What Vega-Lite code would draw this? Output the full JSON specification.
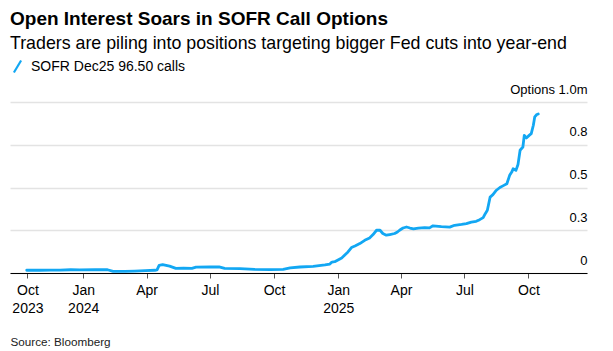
{
  "$schema": "https://vega.github.io/schema/vega-lite/v6.json",
  "width": 577,
  "height": 171,
  "autosize": {"type": "none"},
  "padding": {"left": 10, "top": 102, "right": 26, "bottom": 78},
  "background": "white",
  "title": {
    "text": "Open Interest Soars in SOFR Call Options",
    "subtitle": "Traders are piling into positions targeting bigger Fed cuts into year-end",
    "anchor": "start",
    "frame": "group",
    "font": "Liberation Sans",
    "fontSize": 19,
    "fontWeight": "bold",
    "color": "#000000",
    "subtitleFont": "Liberation Sans",
    "subtitleFontSize": 17.8,
    "subtitleColor": "#000000",
    "subtitlePadding": 6,
    "offset": 6
  },
  "config": {
    "view": {"stroke": null},
    "font": "Liberation Sans"
  },
  "data": {
    "values": [
      {"date": "2023-10-12", "value": 0.016, "series": "SOFR Dec25 96.50 calls"},
      {"date": "2023-10-31", "value": 0.016, "series": "SOFR Dec25 96.50 calls"},
      {"date": "2023-11-15", "value": 0.017, "series": "SOFR Dec25 96.50 calls"},
      {"date": "2023-11-29", "value": 0.017, "series": "SOFR Dec25 96.50 calls"},
      {"date": "2023-12-14", "value": 0.019, "series": "SOFR Dec25 96.50 calls"},
      {"date": "2023-12-27", "value": 0.018, "series": "SOFR Dec25 96.50 calls"},
      {"date": "2024-01-18", "value": 0.019, "series": "SOFR Dec25 96.50 calls"},
      {"date": "2024-02-05", "value": 0.019, "series": "SOFR Dec25 96.50 calls"},
      {"date": "2024-02-13", "value": 0.010, "series": "SOFR Dec25 96.50 calls"},
      {"date": "2024-03-01", "value": 0.009, "series": "SOFR Dec25 96.50 calls"},
      {"date": "2024-03-15", "value": 0.011, "series": "SOFR Dec25 96.50 calls"},
      {"date": "2024-03-30", "value": 0.014, "series": "SOFR Dec25 96.50 calls"},
      {"date": "2024-04-13", "value": 0.016, "series": "SOFR Dec25 96.50 calls"},
      {"date": "2024-04-16", "value": 0.018, "series": "SOFR Dec25 96.50 calls"},
      {"date": "2024-04-19", "value": 0.045, "series": "SOFR Dec25 96.50 calls"},
      {"date": "2024-04-24", "value": 0.049, "series": "SOFR Dec25 96.50 calls"},
      {"date": "2024-05-04", "value": 0.040, "series": "SOFR Dec25 96.50 calls"},
      {"date": "2024-05-13", "value": 0.027, "series": "SOFR Dec25 96.50 calls"},
      {"date": "2024-05-24", "value": 0.028, "series": "SOFR Dec25 96.50 calls"},
      {"date": "2024-06-05", "value": 0.027, "series": "SOFR Dec25 96.50 calls"},
      {"date": "2024-06-11", "value": 0.034, "series": "SOFR Dec25 96.50 calls"},
      {"date": "2024-07-01", "value": 0.035, "series": "SOFR Dec25 96.50 calls"},
      {"date": "2024-07-14", "value": 0.036, "series": "SOFR Dec25 96.50 calls"},
      {"date": "2024-07-22", "value": 0.027, "series": "SOFR Dec25 96.50 calls"},
      {"date": "2024-08-13", "value": 0.025, "series": "SOFR Dec25 96.50 calls"},
      {"date": "2024-09-03", "value": 0.021, "series": "SOFR Dec25 96.50 calls"},
      {"date": "2024-09-25", "value": 0.020, "series": "SOFR Dec25 96.50 calls"},
      {"date": "2024-10-14", "value": 0.021, "series": "SOFR Dec25 96.50 calls"},
      {"date": "2024-10-24", "value": 0.030, "series": "SOFR Dec25 96.50 calls"},
      {"date": "2024-11-07", "value": 0.035, "series": "SOFR Dec25 96.50 calls"},
      {"date": "2024-11-26", "value": 0.039, "series": "SOFR Dec25 96.50 calls"},
      {"date": "2024-12-13", "value": 0.047, "series": "SOFR Dec25 96.50 calls"},
      {"date": "2024-12-20", "value": 0.052, "series": "SOFR Dec25 96.50 calls"},
      {"date": "2024-12-23", "value": 0.064, "series": "SOFR Dec25 96.50 calls"},
      {"date": "2024-12-27", "value": 0.066, "series": "SOFR Dec25 96.50 calls"},
      {"date": "2025-01-06", "value": 0.088, "series": "SOFR Dec25 96.50 calls"},
      {"date": "2025-01-15", "value": 0.123, "series": "SOFR Dec25 96.50 calls"},
      {"date": "2025-01-20", "value": 0.149, "series": "SOFR Dec25 96.50 calls"},
      {"date": "2025-01-25", "value": 0.158, "series": "SOFR Dec25 96.50 calls"},
      {"date": "2025-02-01", "value": 0.172, "series": "SOFR Dec25 96.50 calls"},
      {"date": "2025-02-08", "value": 0.191, "series": "SOFR Dec25 96.50 calls"},
      {"date": "2025-02-15", "value": 0.205, "series": "SOFR Dec25 96.50 calls"},
      {"date": "2025-02-20", "value": 0.225, "series": "SOFR Dec25 96.50 calls"},
      {"date": "2025-02-25", "value": 0.250, "series": "SOFR Dec25 96.50 calls"},
      {"date": "2025-03-02", "value": 0.250, "series": "SOFR Dec25 96.50 calls"},
      {"date": "2025-03-06", "value": 0.231, "series": "SOFR Dec25 96.50 calls"},
      {"date": "2025-03-11", "value": 0.221, "series": "SOFR Dec25 96.50 calls"},
      {"date": "2025-03-16", "value": 0.225, "series": "SOFR Dec25 96.50 calls"},
      {"date": "2025-03-23", "value": 0.231, "series": "SOFR Dec25 96.50 calls"},
      {"date": "2025-03-27", "value": 0.240, "series": "SOFR Dec25 96.50 calls"},
      {"date": "2025-03-30", "value": 0.250, "series": "SOFR Dec25 96.50 calls"},
      {"date": "2025-04-04", "value": 0.263, "series": "SOFR Dec25 96.50 calls"},
      {"date": "2025-04-09", "value": 0.269, "series": "SOFR Dec25 96.50 calls"},
      {"date": "2025-04-14", "value": 0.263, "series": "SOFR Dec25 96.50 calls"},
      {"date": "2025-04-19", "value": 0.258, "series": "SOFR Dec25 96.50 calls"},
      {"date": "2025-04-26", "value": 0.262, "series": "SOFR Dec25 96.50 calls"},
      {"date": "2025-05-05", "value": 0.265, "series": "SOFR Dec25 96.50 calls"},
      {"date": "2025-05-12", "value": 0.264, "series": "SOFR Dec25 96.50 calls"},
      {"date": "2025-05-17", "value": 0.276, "series": "SOFR Dec25 96.50 calls"},
      {"date": "2025-05-29", "value": 0.271, "series": "SOFR Dec25 96.50 calls"},
      {"date": "2025-06-10", "value": 0.268, "series": "SOFR Dec25 96.50 calls"},
      {"date": "2025-06-17", "value": 0.279, "series": "SOFR Dec25 96.50 calls"},
      {"date": "2025-06-27", "value": 0.284, "series": "SOFR Dec25 96.50 calls"},
      {"date": "2025-07-04", "value": 0.289, "series": "SOFR Dec25 96.50 calls"},
      {"date": "2025-07-11", "value": 0.298, "series": "SOFR Dec25 96.50 calls"},
      {"date": "2025-07-18", "value": 0.302, "series": "SOFR Dec25 96.50 calls"},
      {"date": "2025-07-23", "value": 0.312, "series": "SOFR Dec25 96.50 calls"},
      {"date": "2025-07-28", "value": 0.324, "series": "SOFR Dec25 96.50 calls"},
      {"date": "2025-07-31", "value": 0.347, "series": "SOFR Dec25 96.50 calls"},
      {"date": "2025-08-03", "value": 0.367, "series": "SOFR Dec25 96.50 calls"},
      {"date": "2025-08-07", "value": 0.444, "series": "SOFR Dec25 96.50 calls"},
      {"date": "2025-08-11", "value": 0.458, "series": "SOFR Dec25 96.50 calls"},
      {"date": "2025-08-16", "value": 0.484, "series": "SOFR Dec25 96.50 calls"},
      {"date": "2025-08-21", "value": 0.500, "series": "SOFR Dec25 96.50 calls"},
      {"date": "2025-08-26", "value": 0.511, "series": "SOFR Dec25 96.50 calls"},
      {"date": "2025-08-31", "value": 0.522, "series": "SOFR Dec25 96.50 calls"},
      {"date": "2025-09-04", "value": 0.571, "series": "SOFR Dec25 96.50 calls"},
      {"date": "2025-09-07", "value": 0.590, "series": "SOFR Dec25 96.50 calls"},
      {"date": "2025-09-09", "value": 0.610, "series": "SOFR Dec25 96.50 calls"},
      {"date": "2025-09-13", "value": 0.600, "series": "SOFR Dec25 96.50 calls"},
      {"date": "2025-09-16", "value": 0.635, "series": "SOFR Dec25 96.50 calls"},
      {"date": "2025-09-19", "value": 0.718, "series": "SOFR Dec25 96.50 calls"},
      {"date": "2025-09-23", "value": 0.737, "series": "SOFR Dec25 96.50 calls"},
      {"date": "2025-09-25", "value": 0.805, "series": "SOFR Dec25 96.50 calls"},
      {"date": "2025-09-28", "value": 0.790, "series": "SOFR Dec25 96.50 calls"},
      {"date": "2025-10-02", "value": 0.805, "series": "SOFR Dec25 96.50 calls"},
      {"date": "2025-10-05", "value": 0.815, "series": "SOFR Dec25 96.50 calls"},
      {"date": "2025-10-08", "value": 0.864, "series": "SOFR Dec25 96.50 calls"},
      {"date": "2025-10-10", "value": 0.913, "series": "SOFR Dec25 96.50 calls"},
      {"date": "2025-10-13", "value": 0.927, "series": "SOFR Dec25 96.50 calls"},
      {"date": "2025-10-15", "value": 0.930, "series": "SOFR Dec25 96.50 calls"}
    ]
  },
  "mark": {"type": "line", "strokeWidth": 2.8, "strokeJoin": "round", "strokeCap": "round"},
  "encoding": {
    "x": {
      "field": "date",
      "type": "temporal",
      "scale": {
        "type": "utc",
        "nice": false,
        "domain": [
          {"year": 2023, "month": 9, "date": 18, "utc": true},
          {"year": 2025, "month": 12, "date": 24, "utc": true}
        ]
      },
      "axis": {
        "values": [
          {"year": 2023, "month": 10, "date": 13, "utc": true},
          {"year": 2024, "month": 1, "date": 1, "utc": true},
          {"year": 2024, "month": 4, "date": 1, "utc": true},
          {"year": 2024, "month": 7, "date": 1, "utc": true},
          {"year": 2024, "month": 10, "date": 1, "utc": true},
          {"year": 2025, "month": 1, "date": 1, "utc": true},
          {"year": 2025, "month": 4, "date": 1, "utc": true},
          {"year": 2025, "month": 7, "date": 1, "utc": true},
          {"year": 2025, "month": 10, "date": 1, "utc": true}
        ],
        "labelExpr": "(utcyear(datum.value) == 2023 || utcmonth(datum.value) == 0) ? [utcFormat(datum.value, '%b'), utcFormat(datum.value, '%Y')] : utcFormat(datum.value, '%b')",
        "labelFont": "Liberation Sans",
        "labelFontSize": 14,
        "labelColor": "#000000",
        "labelLineHeight": 18,
        "labelPadding": 5,
        "labelFlush": false,
        "labelOverlap": false,
        "tickSize": 5,
        "tickColor": "#555555",
        "tickWidth": 1,
        "domainColor": "#000000",
        "domainWidth": 1,
        "grid": false,
        "zindex": 1,
        "title": "Source: Bloomberg",
        "titleFont": "Liberation Sans",
        "titleFontSize": 11.7,
        "titleFontWeight": "normal",
        "titleColor": "#222222",
        "titleAnchor": "start",
        "titleAlign": "left",
        "titleBaseline": "middle",
        "titleX": 0,
        "titleY": 68
      }
    },
    "y": {
      "field": "value",
      "type": "quantitative",
      "scale": {"domain": [0, 1], "nice": false},
      "axis": {
        "orient": "right",
        "values": [0, 0.25, 0.5, 0.75, 1],
        "labelExpr": "datum.value == 1 ? 'Options 1.0m' : datum.value == 0.75 ? '0.8' : datum.value == 0.5 ? '0.5' : datum.value == 0.25 ? '0.3' : '0'",
        "labelFont": "Liberation Sans",
        "labelFontSize": 13,
        "labelColor": "#000000",
        "labelAlign": "right",
        "labelBaseline": "alphabetic",
        "labelOffset": -9,
        "labelPadding": 0,
        "labelFlush": false,
        "labelOverlap": false,
        "ticks": false,
        "tickSize": 0,
        "domain": false,
        "grid": true,
        "gridColor": "#e3e3e3",
        "gridWidth": 1.5,
        "title": null
      }
    },
    "color": {
      "field": "series",
      "type": "nominal",
      "scale": {"range": ["#12a7f3"]},
      "legend": {
        "title": null,
        "orient": "none",
        "legendX": 0,
        "legendY": -43,
        "padding": 0,
        "symbolType": "M-0.6,1L0.6,-1",
        "symbolSize": 144,
        "symbolStrokeWidth": 2.2,
        "labelFont": "Liberation Sans",
        "labelFontSize": 14,
        "labelColor": "#000000",
        "labelOffset": 6,
        "labelLimit": 300
      }
    }
  }
}
